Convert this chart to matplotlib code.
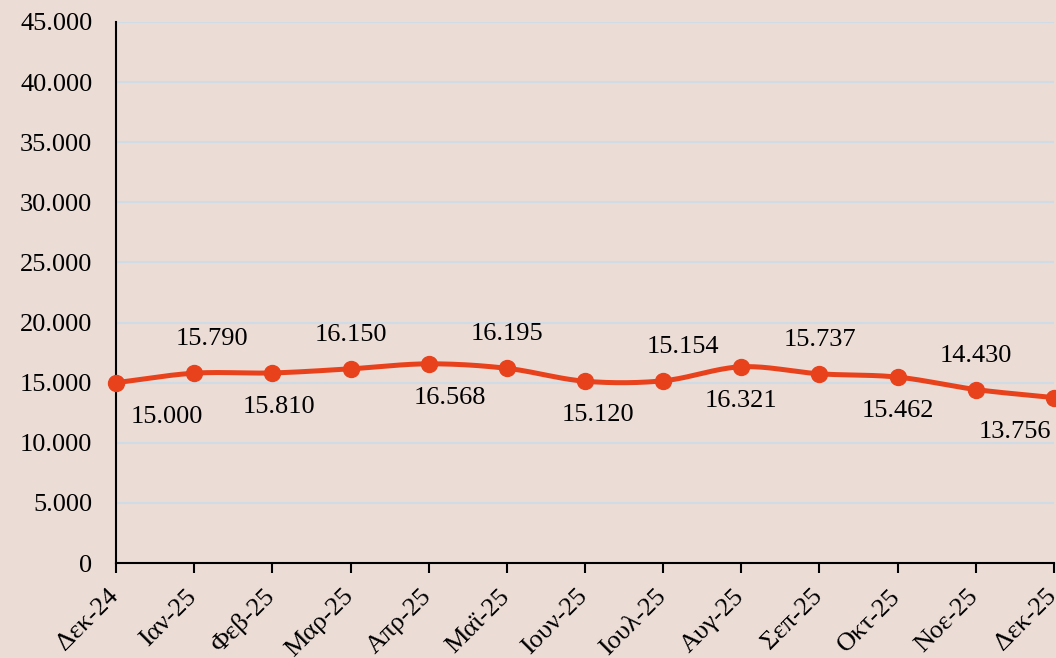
import numpy as np
import matplotlib
matplotlib.use("Agg")
import matplotlib.pyplot as plt
from matplotlib.ticker import FuncFormatter, MultipleLocator
from matplotlib.transforms import ScaledTranslation

months = ["Δεκ-24", "Ιαν-25", "Φεβ-25", "Μαρ-25", "Απρ-25", "Μαϊ-25", "Ιουν-25",
          "Ιουλ-25", "Αυγ-25", "Σεπ-25", "Οκτ-25", "Νοε-25", "Δεκ-25"]
values = [15000, 15790, 15810, 16150, 16568, 16195, 15120,
          15154, 16321, 15737, 15462, 14430, 13756]

# label placement (style): +1 above, -1 below, plus horizontal pixel shift
label_side = [-1, 1, -1, 1, -1, 1, -1, 1, -1, 1, -1, 1, -1]
label_dx = [51, 18, 7, 0, 21, 0, 13, 20, 0, 0, 0, 0, -39]

BG = "#EBDCD6"
LINE = "#E8421C"
GRID = "#CFDCE6"
FS = 19

plt.rcParams['font.family'] = ['Liberation Serif']

fig = plt.figure(figsize=(10.56, 6.58), dpi=100, facecolor=BG)
ax = fig.add_axes([116/1056, 1-563/658, (1054-116)/1056, (563-22)/658])
ax.set_facecolor(BG)

x = np.arange(len(values))
y = np.array(values, dtype=float)

# Catmull-Rom style smoothing for rendering (like Excel's smoothed line)
def smooth(xp, yp, n=30):
    P = np.column_stack([xp, yp]).astype(float)
    P = np.vstack([P[0] - (P[1] - P[0]), P, P[-1] + (P[-1] - P[-2])])
    out = []
    for i in range(1, len(P) - 2):
        p0, p1, p2, p3 = P[i-1], P[i], P[i+1], P[i+2]
        t = np.linspace(0, 1, n, endpoint=False)[:, None]
        c1 = p1 + (p2 - p0) / 6.0
        c2 = p2 - (p3 - p1) / 6.0
        seg = ((1-t)**3) * p1 + 3*((1-t)**2)*t*c1 + 3*(1-t)*t**2*c2 + t**3*p2
        out.append(seg)
    out.append(P[-2][None, :])
    out = np.vstack(out)
    return out[:, 0], out[:, 1]

sx, sy = smooth(x, y)
ax.plot(sx, sy, color=LINE, lw=3.6, solid_capstyle='round', zorder=3, clip_on=False)
ax.plot(x, y, 'o', color=LINE, ms=11.5, zorder=4, clip_on=False)

for i, v in enumerate(values):
    s = f"{v:,}".replace(",", ".")
    ax.annotate(s, (x[i], y[i]), xytext=(label_dx[i], 34 * label_side[i]),
                textcoords='offset pixels', ha='center', va='center',
                fontsize=FS, color='black', zorder=5, annotation_clip=False)

ax.set_xlim(0, len(values) - 1)
ax.set_ylim(0, 45000)
ax.yaxis.set_major_locator(MultipleLocator(5000))
ax.yaxis.set_major_formatter(FuncFormatter(lambda v, p: f"{int(v):,}".replace(",", ".")))
ax.set_xticks(x)
ax.set_xticklabels(months, rotation=45, ha='right', va='top', fontsize=FS)
ax.tick_params(axis='y', length=0, pad=17, labelsize=FS)
ax.tick_params(axis='x', length=7, width=1.5, direction='out', pad=4, color='black')
shift = ScaledTranslation(7/100, -7/100, fig.dpi_scale_trans)
for lbl in ax.get_xticklabels():
    lbl.set_transform(lbl.get_transform() + shift)

ax.grid(axis='y', color=GRID, lw=1.5, zorder=0)
ax.set_axisbelow(True)
for sp in ['top', 'right']:
    ax.spines[sp].set_visible(False)
for sp in ['left', 'bottom']:
    ax.spines[sp].set_linewidth(1.5)
    ax.spines[sp].set_color('black')
    ax.spines[sp].set_zorder(2)

fig.savefig("out.png", dpi=100, facecolor=BG)
